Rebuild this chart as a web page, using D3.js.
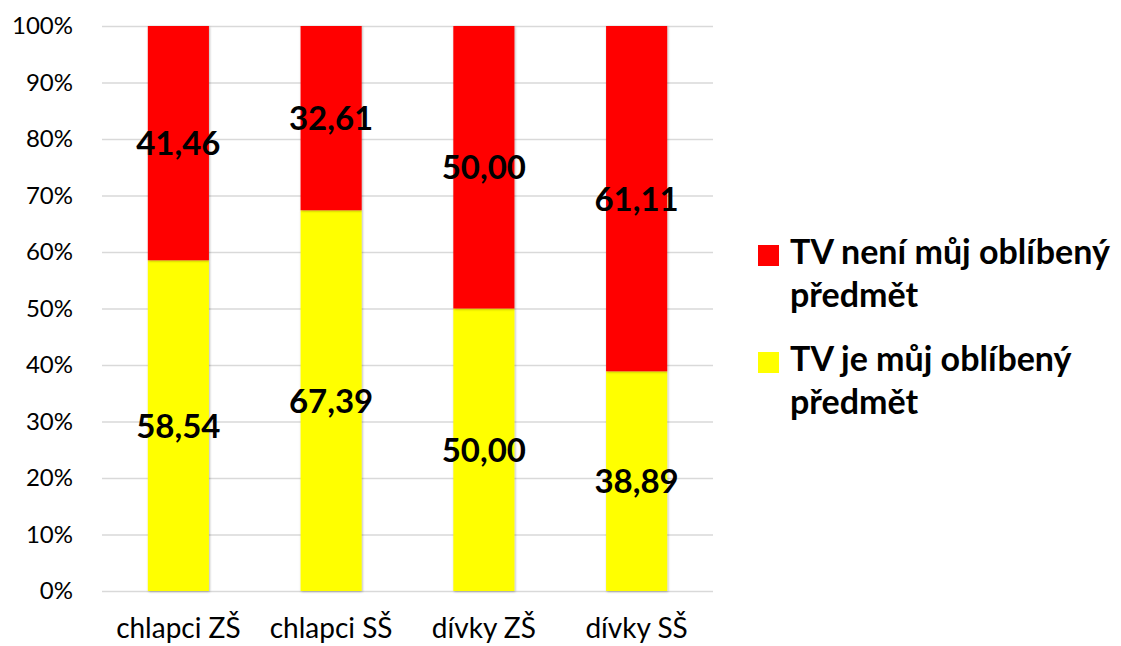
<!DOCTYPE html>
<html>
<head>
<meta charset="utf-8">
<script src="https://cdn.jsdelivr.net/npm/d3@7/dist/d3.min.js"></script>
<style>
  html, body { margin: 0; padding: 0; background: #fff; }
  svg { display: block; font-family: Lato, "Open Sans", sans-serif; }
</style>
</head>
<body>
<svg id="chart" width="1121" height="646"></svg>
<script>
// Categories and the two stacked shares (percent)
const categories = ["chlapci ZŠ", "chlapci SŠ", "dívky ZŠ", "dívky SŠ"];
const favourite = [58.54, 67.39, 50.00, 38.89];      // TV je můj oblíbený předmět
const notFavourite = [41.46, 32.61, 50.00, 61.11];   // TV není můj oblíbený předmět
const seriesColors = ["#ff0000", "#ffff00"];
const yTicks = [0, 10, 20, 30, 40, 50, 60, 70, 80, 90, 100];

const svg = d3.select("#chart");
const margin = { left: 102, right: 408, top: 26, bottom: 55 };
const W = 1121, H = 646;

const x = d3.scaleBand()
  .domain(categories)
  .range([margin.left, W - margin.right])
  .paddingInner(0.6)
  .paddingOuter(0.3);

const y = d3.scaleLinear()
  .domain([0, 100])
  .range([H - margin.bottom, margin.top]);

// soft shadow under bars
const defs = svg.append("defs");
const f = defs.append("filter").attr("id", "shadow")
  .attr("x", "-20%").attr("y", "-5%").attr("width", "140%").attr("height", "110%");
f.append("feDropShadow").attr("dx", 0.8).attr("dy", 0.8)
  .attr("stdDeviation", 1.2).attr("flood-color", "#000").attr("flood-opacity", 0.3);

// gridlines
svg.append("g")
  .selectAll("line")
  .data(yTicks)
  .join("line")
  .attr("x1", margin.left)
  .attr("x2", W - margin.right)
  .attr("y1", d => y(d) + 0.5)
  .attr("y2", d => y(d) + 0.5)
  .attr("stroke", "#d9d9d9")
  .attr("stroke-width", 1.5);

// y axis labels
const yAxis = d3.axisLeft(y)
  .tickValues(yTicks)
  .tickFormat(d => d + "%")
  .tickSize(0)
  .tickPadding(0);
svg.append("g")
  .attr("transform", `translate(${margin.left - 29},0)`)
  .call(yAxis)
  .call(g => g.select(".domain").remove())
  .call(g => g.selectAll("text")
    .attr("font-family", "Lato, sans-serif")
    .attr("font-size", 24)
    .attr("fill", "#000"));

// stacked data
const rows = categories.map((c, i) => ({ cat: c, fav: favourite[i], notFav: notFavourite[i] }));
const stack = d3.stack().keys(["fav", "notFav"])(rows);
const colorByKey = { fav: seriesColors[1], notFav: seriesColors[0] };

const layers = svg.append("g").selectAll("g")
  .data(stack)
  .join("g")
  .attr("fill", d => colorByKey[d.key]);

layers.selectAll("rect")
  .data(d => d)
  .join("rect")
  .attr("x", d => x(d.data.cat))
  .attr("width", x.bandwidth())
  .attr("y", d => y(d[1]))
  .attr("height", d => y(d[0]) - y(d[1]))
  .attr("filter", "url(#shadow)");

// value labels
const fmt = v => v.toFixed(2).replace(".", ",");
stack.forEach(layer => {
  svg.append("g").selectAll("text")
    .data(layer)
    .join("text")
    .attr("x", d => x(d.data.cat) + x.bandwidth() / 2)
    .attr("y", d => (y(d[0]) + y(d[1])) / 2)
    .attr("dy", "0.36em")
    .attr("text-anchor", "middle")
    .attr("font-family", "Lato, sans-serif")
    .attr("font-weight", "bold")
    .attr("font-size", 33)
    .attr("fill", "#000")
    .text(d => fmt(d[1] - d[0]));
});

// x axis labels
const xAxis = d3.axisBottom(x).tickSize(0).tickPadding(0);
svg.append("g")
  .attr("transform", `translate(0,${H - margin.bottom})`)
  .call(xAxis)
  .call(g => g.select(".domain").remove())
  .call(g => g.selectAll("text")
    .attr("y", 47)
    .attr("dy", 0)
    .attr("font-family", "Lato, sans-serif")
    .attr("font-size", 28)
    .attr("fill", "#000"));

// legend
const legendItems = [
  { lines: ["TV není můj oblíbený", "předmět"], color: seriesColors[0], top: 245 },
  { lines: ["TV je můj oblíbený", "předmět"], color: seriesColors[1], top: 352 }
];
const legend = svg.append("g");
legendItems.forEach(it => {
  legend.append("rect")
    .attr("x", 758).attr("y", it.top)
    .attr("width", 21).attr("height", 21)
    .attr("fill", it.color);
  const t = legend.append("text")
    .attr("x", 790).attr("y", it.top + 19)
    .attr("font-family", "Lato, sans-serif")
    .attr("font-weight", "bold")
    .attr("font-size", 34)
    .attr("fill", "#000");
  it.lines.forEach((ln, k) => {
    t.append("tspan").attr("x", 790).attr("dy", k === 0 ? 0 : 43).text(ln);
  });
});
</script>
</body>
</html>
